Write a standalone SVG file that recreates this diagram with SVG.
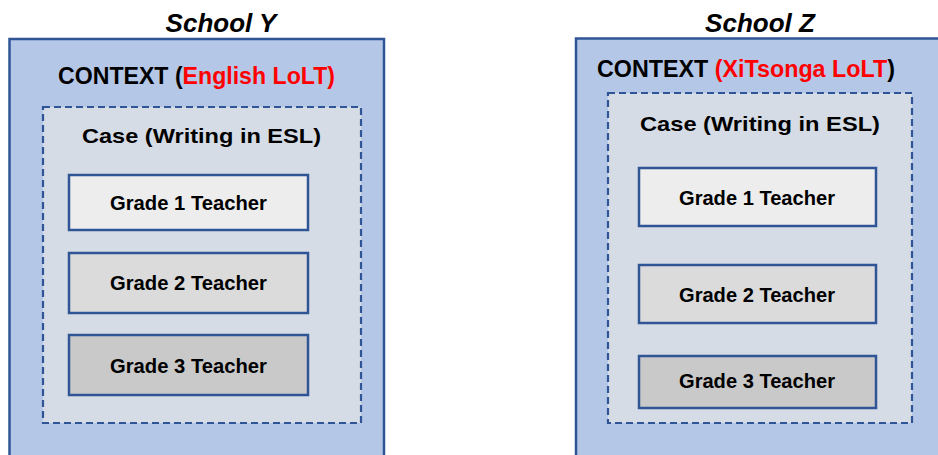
<svg xmlns="http://www.w3.org/2000/svg" width="938" height="455" viewBox="0 0 938 455">
<style>
.outer{fill:#B4C7E7;stroke:#2F5597;stroke-width:2.5}
.case{fill:#D6DCE5;stroke:#2F5597;stroke-width:2.2;stroke-dasharray:7,4}
.box{stroke:#2F5597;stroke-width:2.5}
.g1{fill:#EDEDED}.g2{fill:#DBDBDB}.g3{fill:#C9C9C9}
.title{font-family:"Liberation Sans",Arial,sans-serif;font-weight:bold;font-style:italic;font-size:26px;fill:#000;text-anchor:middle}
.ctx{font-family:"Liberation Sans",Arial,sans-serif;font-weight:bold;font-size:23px;fill:#000}
.red{fill:#FF0000}
.cs{font-family:"Liberation Sans",Arial,sans-serif;font-weight:bold;font-size:21px;fill:#000}
.gt{font-family:"Liberation Sans",Arial,sans-serif;font-weight:bold;font-size:19.5px;fill:#000}
</style>
<rect width="938" height="455" fill="#FFFFFF"/>
<g id="schoolY">
<text class="title" x="221" y="32">School Y</text>
<rect class="outer" x="9.5" y="39" width="374.5" height="430"/>
<text class="ctx" x="58" y="84" textLength="277" lengthAdjust="spacingAndGlyphs">CONTEXT (<tspan class="red">English LoLT)</tspan></text>
</g>
<g id="caseY">
<rect class="case" x="43" y="107" width="318" height="316"/>
<text class="cs" x="82" y="143" textLength="239" lengthAdjust="spacingAndGlyphs">Case (Writing in ESL)</text>
</g>
<g id="y-grade1">
<rect class="box g1" x="69" y="175" width="239" height="55"/>
<text class="gt" x="110" y="210" textLength="157" lengthAdjust="spacingAndGlyphs">Grade 1 Teacher</text>
</g>
<g id="y-grade2">
<rect class="box g2" x="69" y="253" width="239" height="60"/>
<text class="gt" x="110" y="290" textLength="157" lengthAdjust="spacingAndGlyphs">Grade 2 Teacher</text>
</g>
<g id="y-grade3">
<rect class="box g3" x="69" y="335" width="239" height="60"/>
<text class="gt" x="110" y="373" textLength="157" lengthAdjust="spacingAndGlyphs">Grade 3 Teacher</text>
</g>
<g id="schoolZ">
<text class="title" x="760" y="32">School Z</text>
<rect class="outer" x="576" y="38.5" width="380" height="430"/>
<text class="ctx" x="597" y="77" textLength="298" lengthAdjust="spacingAndGlyphs">CONTEXT <tspan class="red">(XiTsonga LoLT</tspan>)</text>
</g>
<g id="caseZ">
<rect class="case" x="608" y="93" width="304" height="330"/>
<text class="cs" x="640" y="131" textLength="240" lengthAdjust="spacingAndGlyphs">Case (Writing in ESL)</text>
</g>
<g id="z-grade1">
<rect class="box g1" x="639" y="168" width="237" height="58"/>
<text class="gt" x="679" y="205" textLength="156" lengthAdjust="spacingAndGlyphs">Grade 1 Teacher</text>
</g>
<g id="z-grade2">
<rect class="box g2" x="639" y="265" width="237" height="58"/>
<text class="gt" x="679" y="302" textLength="156" lengthAdjust="spacingAndGlyphs">Grade 2 Teacher</text>
</g>
<g id="z-grade3">
<rect class="box g3" x="639" y="356" width="237" height="52"/>
<text class="gt" x="679" y="388" textLength="156" lengthAdjust="spacingAndGlyphs">Grade 3 Teacher</text>
</g>
<g id="connectors"></g>
</svg>
